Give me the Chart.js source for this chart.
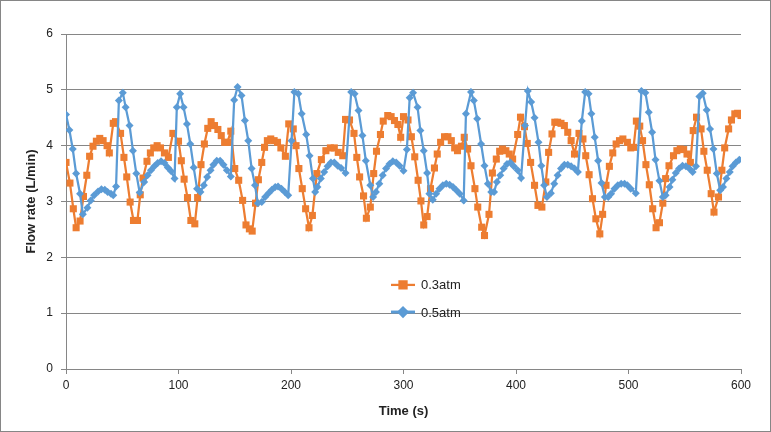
<!DOCTYPE html>
<html>
<head>
<meta charset="utf-8">
<script src="https://cdn.jsdelivr.net/npm/chart.js@4/dist/chart.umd.min.js"></script>
<style>
  html, body { margin: 0; padding: 0; background: #fff; }
  #wrap { width: 771px; height: 432px; position: relative; }
</style>
</head>
<body>
<div id="wrap"><canvas id="c" width="771" height="432"></canvas></div>
<script>
const seriesNames = ['0.3atm', '0.5atm'];
const seriesColors = ['#ED7D31', '#5B9BD5'];

const orangeTime = [0,3.5,6.5,9,12.5,15.5,18.5,21,24,27,30,33,36.5,38.5,42,44,48.5,51.5,54,57,60,63.5,66,68.5,72,75,78,81,84,87.5,91,95,100,102.5,105,108,111,114.5,117,120,123,126,129,132,135,138,141,143.5,146.5,150,153.5,157,160,163,165.5,168.5,171,174,176.5,179,182,185,188,191,195,198,202,204.5,207,210,213,216,219,223,227,231,235,238.5,242,246,248.5,252,256,258.5,261,264.5,267,270.5,273.5,276,279.5,282,286,289,292,295,297.5,300,304,307,310,313,315.5,318,321,324,327.5,330,333,336.5,339.5,342.5,345.5,348,351.5,354,357,360,363.5,366,369.5,372,376,379,382.5,385.5,388,391,394,397,401.5,404,407.5,410,413,416.5,419.5,423,426.5,429,432,434.5,437,440,443,446,449,452,456,459.5,462,465,468,471,474.5,477,480,483,486,489,492,495,499,502,504.5,507,510,512.5,515.5,518.5,521.5,524.5,527.5,530.5,533,536,540,543,546,549,552,555,557.5,560.5,564.5,567,570,573.5,576,580,583,585.5,589,591.5,594.5,597,600];
const orangeFlow = [3.70,3.33,2.87,2.53,2.65,3.09,3.47,3.81,3.99,4.08,4.13,4.09,4.00,3.87,4.40,4.43,4.22,3.79,3.44,2.99,2.66,2.66,3.12,3.42,3.72,3.87,3.96,4.00,3.96,3.87,3.79,4.22,4.08,3.73,3.40,3.07,2.66,2.60,3.07,3.66,4.03,4.31,4.43,4.36,4.29,4.18,4.06,4.06,4.26,3.59,3.38,3.02,2.58,2.51,2.47,2.97,3.39,3.70,3.97,4.09,4.12,4.09,4.06,3.96,3.81,4.39,4.30,4.00,3.59,3.23,2.87,2.53,2.75,3.50,3.75,3.91,3.96,3.96,3.88,3.82,4.47,4.46,4.22,3.79,3.44,3.10,2.70,2.90,3.50,3.90,4.20,4.44,4.54,4.52,4.45,4.38,4.15,4.52,4.46,4.16,3.80,3.38,3.01,2.58,2.73,3.23,3.60,3.85,4.06,4.16,4.16,4.09,3.96,3.91,3.99,4.15,3.94,3.64,3.23,2.90,2.54,2.39,2.77,3.51,3.76,3.90,3.94,3.91,3.85,3.76,4.20,4.51,4.34,4.04,3.70,3.29,2.93,2.90,3.35,3.88,4.21,4.42,4.42,4.40,4.36,4.24,4.09,3.85,4.22,4.12,3.82,3.48,3.05,2.69,2.42,2.77,3.29,3.63,3.87,4.03,4.09,4.12,4.06,3.96,3.97,4.44,4.35,4.09,3.66,3.30,2.87,2.53,2.62,2.97,3.41,3.64,3.82,3.91,3.94,3.93,3.85,3.70,4.27,4.51,4.30,3.90,3.56,3.14,2.81,3.08,3.56,3.96,4.30,4.46,4.57,4.58,4.54];

const blueTime = [0,3,6,9,12.5,15,19,22,25,28.5,31.5,34.5,37,40,42,44.5,47,50.5,53,56.5,59.5,62.5,65.5,69.5,72.5,75.5,78.5,81.5,84.5,87.5,90.5,93.5,96.5,98.5,101.5,104.5,107.5,110.5,113.5,116.5,119.5,122.5,125.5,128.5,131,134,137,140,143,146.5,149.5,152.5,156,159,162,165,168,170.5,174,177,180,183,186,188.5,191.5,194.5,197.5,200.5,203,206.5,209.5,213.5,216.5,219.5,221.5,223.5,226.5,229.5,232.5,235.5,238.5,241.5,244.5,248.5,253.5,256.5,260,263.5,266.5,270.5,273,275.5,278.5,281.5,284.5,287.5,290.5,293.5,296.5,300,303,305.5,308.5,312.5,315,318,321,323,326,329,332,335,338,341,344,347,350,353.5,355.5,360,362.5,365.5,369,372,375,378,380.5,383,386,389,392,395,398,401.5,404.5,408,410.5,413.5,416.5,420,422.5,425,427.5,431,434,437,440,443,446,449,452,455,458.5,461.5,464.5,467,470,473,476,479,482,484.5,487.5,490.5,493.5,496.5,499,502,506.5,511.5,515,518,521,524,527.5,530.5,533,536.5,539,542,545,548,551,554,557,560,563,566,569.5,572.5,575.5,578.5,581.5,584,587,590,592.5,595.5,598.5];
const blueFlow = [4.56,4.28,3.94,3.50,3.14,2.77,2.89,3.02,3.11,3.18,3.22,3.21,3.17,3.14,3.11,3.27,4.81,4.95,4.69,4.36,3.91,3.50,3.16,3.35,3.47,3.56,3.63,3.69,3.72,3.69,3.61,3.54,3.41,4.69,4.93,4.69,4.39,4.03,3.61,3.23,3.17,3.29,3.44,3.56,3.66,3.73,3.73,3.66,3.56,3.45,4.82,5.05,4.90,4.45,4.09,3.59,3.29,2.97,2.99,3.08,3.15,3.21,3.26,3.27,3.23,3.17,3.11,4.09,4.96,4.93,4.57,4.20,3.82,3.41,3.17,3.26,3.41,3.53,3.63,3.70,3.70,3.64,3.60,3.51,4.96,4.93,4.63,4.18,3.73,3.29,3.08,3.17,3.32,3.47,3.59,3.67,3.72,3.70,3.64,3.55,3.93,4.86,4.95,4.69,4.27,3.91,3.51,3.14,3.03,3.14,3.23,3.29,3.32,3.30,3.26,3.20,3.14,3.02,4.57,4.96,4.81,4.48,4.03,3.64,3.32,3.17,3.17,3.35,3.47,3.59,3.67,3.70,3.63,3.56,3.42,4.36,4.98,4.78,4.50,4.06,3.64,3.29,3.08,3.15,3.32,3.47,3.59,3.66,3.66,3.63,3.59,3.53,4.44,4.96,4.93,4.57,4.15,3.73,3.33,3.08,3.08,3.14,3.23,3.29,3.32,3.32,3.29,3.23,3.15,4.98,4.95,4.60,4.24,3.75,3.37,3.08,3.11,3.26,3.39,3.51,3.59,3.64,3.63,3.59,3.53,3.63,4.88,4.94,4.64,4.30,3.94,3.50,3.20,3.26,3.41,3.53,3.63,3.70,3.75];

const toPoints = (xs, ys) => xs.map((x, i) => ({ x: x, y: ys[i] }));

const FONT = "'Liberation Sans', Arial, sans-serif";
const GRID = '#868686';

const frameAndLegend = {
  id: 'frameAndLegend',
  afterDraw(chart) {
    const { ctx, chartArea: a } = chart;
    ctx.save();
    // outer frame
    ctx.strokeStyle = GRID;
    ctx.lineWidth = 1;
    ctx.strokeRect(0.5, 0.5, chart.width - 1, chart.height - 1);
    // legend inside the plot
    const rows = [0.749, 0.830];
    const x0 = a.left + 0.4815 * (a.right - a.left);
    chart.data.datasets.forEach((ds, i) => {
      const yy = a.top + rows[i] * (a.bottom - a.top);
      ctx.strokeStyle = ds.borderColor;
      ctx.lineWidth = i === 1 ? 3 : 2.25;
      ctx.beginPath();
      ctx.moveTo(x0, yy);
      ctx.lineTo(x0 + 24, yy);
      ctx.stroke();
      Chart.helpers.drawPoint(ctx, {
        pointStyle: ds.pointStyle, radius: ds.pointRadius,
        borderWidth: 1
      }, x0 + 12, yy);
      ctx.fillStyle = ds.backgroundColor;
      ctx.strokeStyle = ds.borderColor;
      ctx.beginPath();
      if (ds.pointStyle === 'rect') {
        const s = ds.pointRadius * Math.SQRT1_2;
        ctx.rect(x0 + 12 - s, yy - s, 2 * s, 2 * s);
      } else {
        const r = ds.pointRadius;
        ctx.moveTo(x0 + 12, yy - r); ctx.lineTo(x0 + 12 + r, yy);
        ctx.lineTo(x0 + 12, yy + r); ctx.lineTo(x0 + 12 - r, yy); ctx.closePath();
      }
      ctx.fill();
      ctx.fillStyle = '#222';
      ctx.font = '13px ' + FONT;
      ctx.textBaseline = 'middle';
      ctx.textAlign = 'left';
      ctx.fillText(ds.label, x0 + 30, yy + 1);
    });
    ctx.restore();
  }
};

new Chart(document.getElementById('c'), {
  type: 'scatter',
  data: {
    datasets: [
      {
        label: seriesNames[0],
        data: toPoints(orangeTime, orangeFlow),
        showLine: true,
        borderColor: seriesColors[0],
        backgroundColor: seriesColors[0],
        borderWidth: 2.25,
        pointStyle: 'rect',
        pointRadius: 5,
        pointBorderWidth: 0,
        order: 2
      },
      {
        label: seriesNames[1],
        data: toPoints(blueTime, blueFlow),
        showLine: true,
        borderColor: seriesColors[1],
        backgroundColor: seriesColors[1],
        borderWidth: 2.25,
        pointStyle: 'rectRot',
        pointRadius: 4,
        pointBorderWidth: 0,
        order: 1
      }
    ]
  },
  options: {
    responsive: false,
    animation: false,
    devicePixelRatio: 1,
    layout: { padding: { left: 0, right: 30, top: 34, bottom: 0 } },
    plugins: { legend: { display: false }, tooltip: { enabled: false } },
    scales: {
      x: {
        type: 'linear',
        min: 0, max: 600,
        ticks: { stepSize: 100, color: '#222', font: { family: FONT, size: 12 }, padding: 4 },
        grid: { display: true, drawOnChartArea: false, drawTicks: true, tickLength: 5, color: GRID },
        border: { display: true, color: GRID },
        title: { display: true, text: 'Time (s)', color: '#222', font: { family: FONT, size: 13, weight: 'bold' }, padding: { top: 0, bottom: 13 } },
        afterFit(scale) { scale.height = 63; }
      },
      y: {
        min: 0, max: 6,
        ticks: { stepSize: 1, color: '#222', font: { family: FONT, size: 12 }, padding: 8 },
        grid: { color: GRID, tickLength: 5 },
        border: { display: true, color: GRID },
        title: { display: true, text: 'Flow rate (L/min)', color: '#222', font: { family: FONT, size: 13, weight: 'bold' }, padding: { top: 24, bottom: 0 } },
        afterFit(scale) { scale.width = 66; }
      }
    }
  },
  plugins: [frameAndLegend]
});
</script>
</body>
</html>
